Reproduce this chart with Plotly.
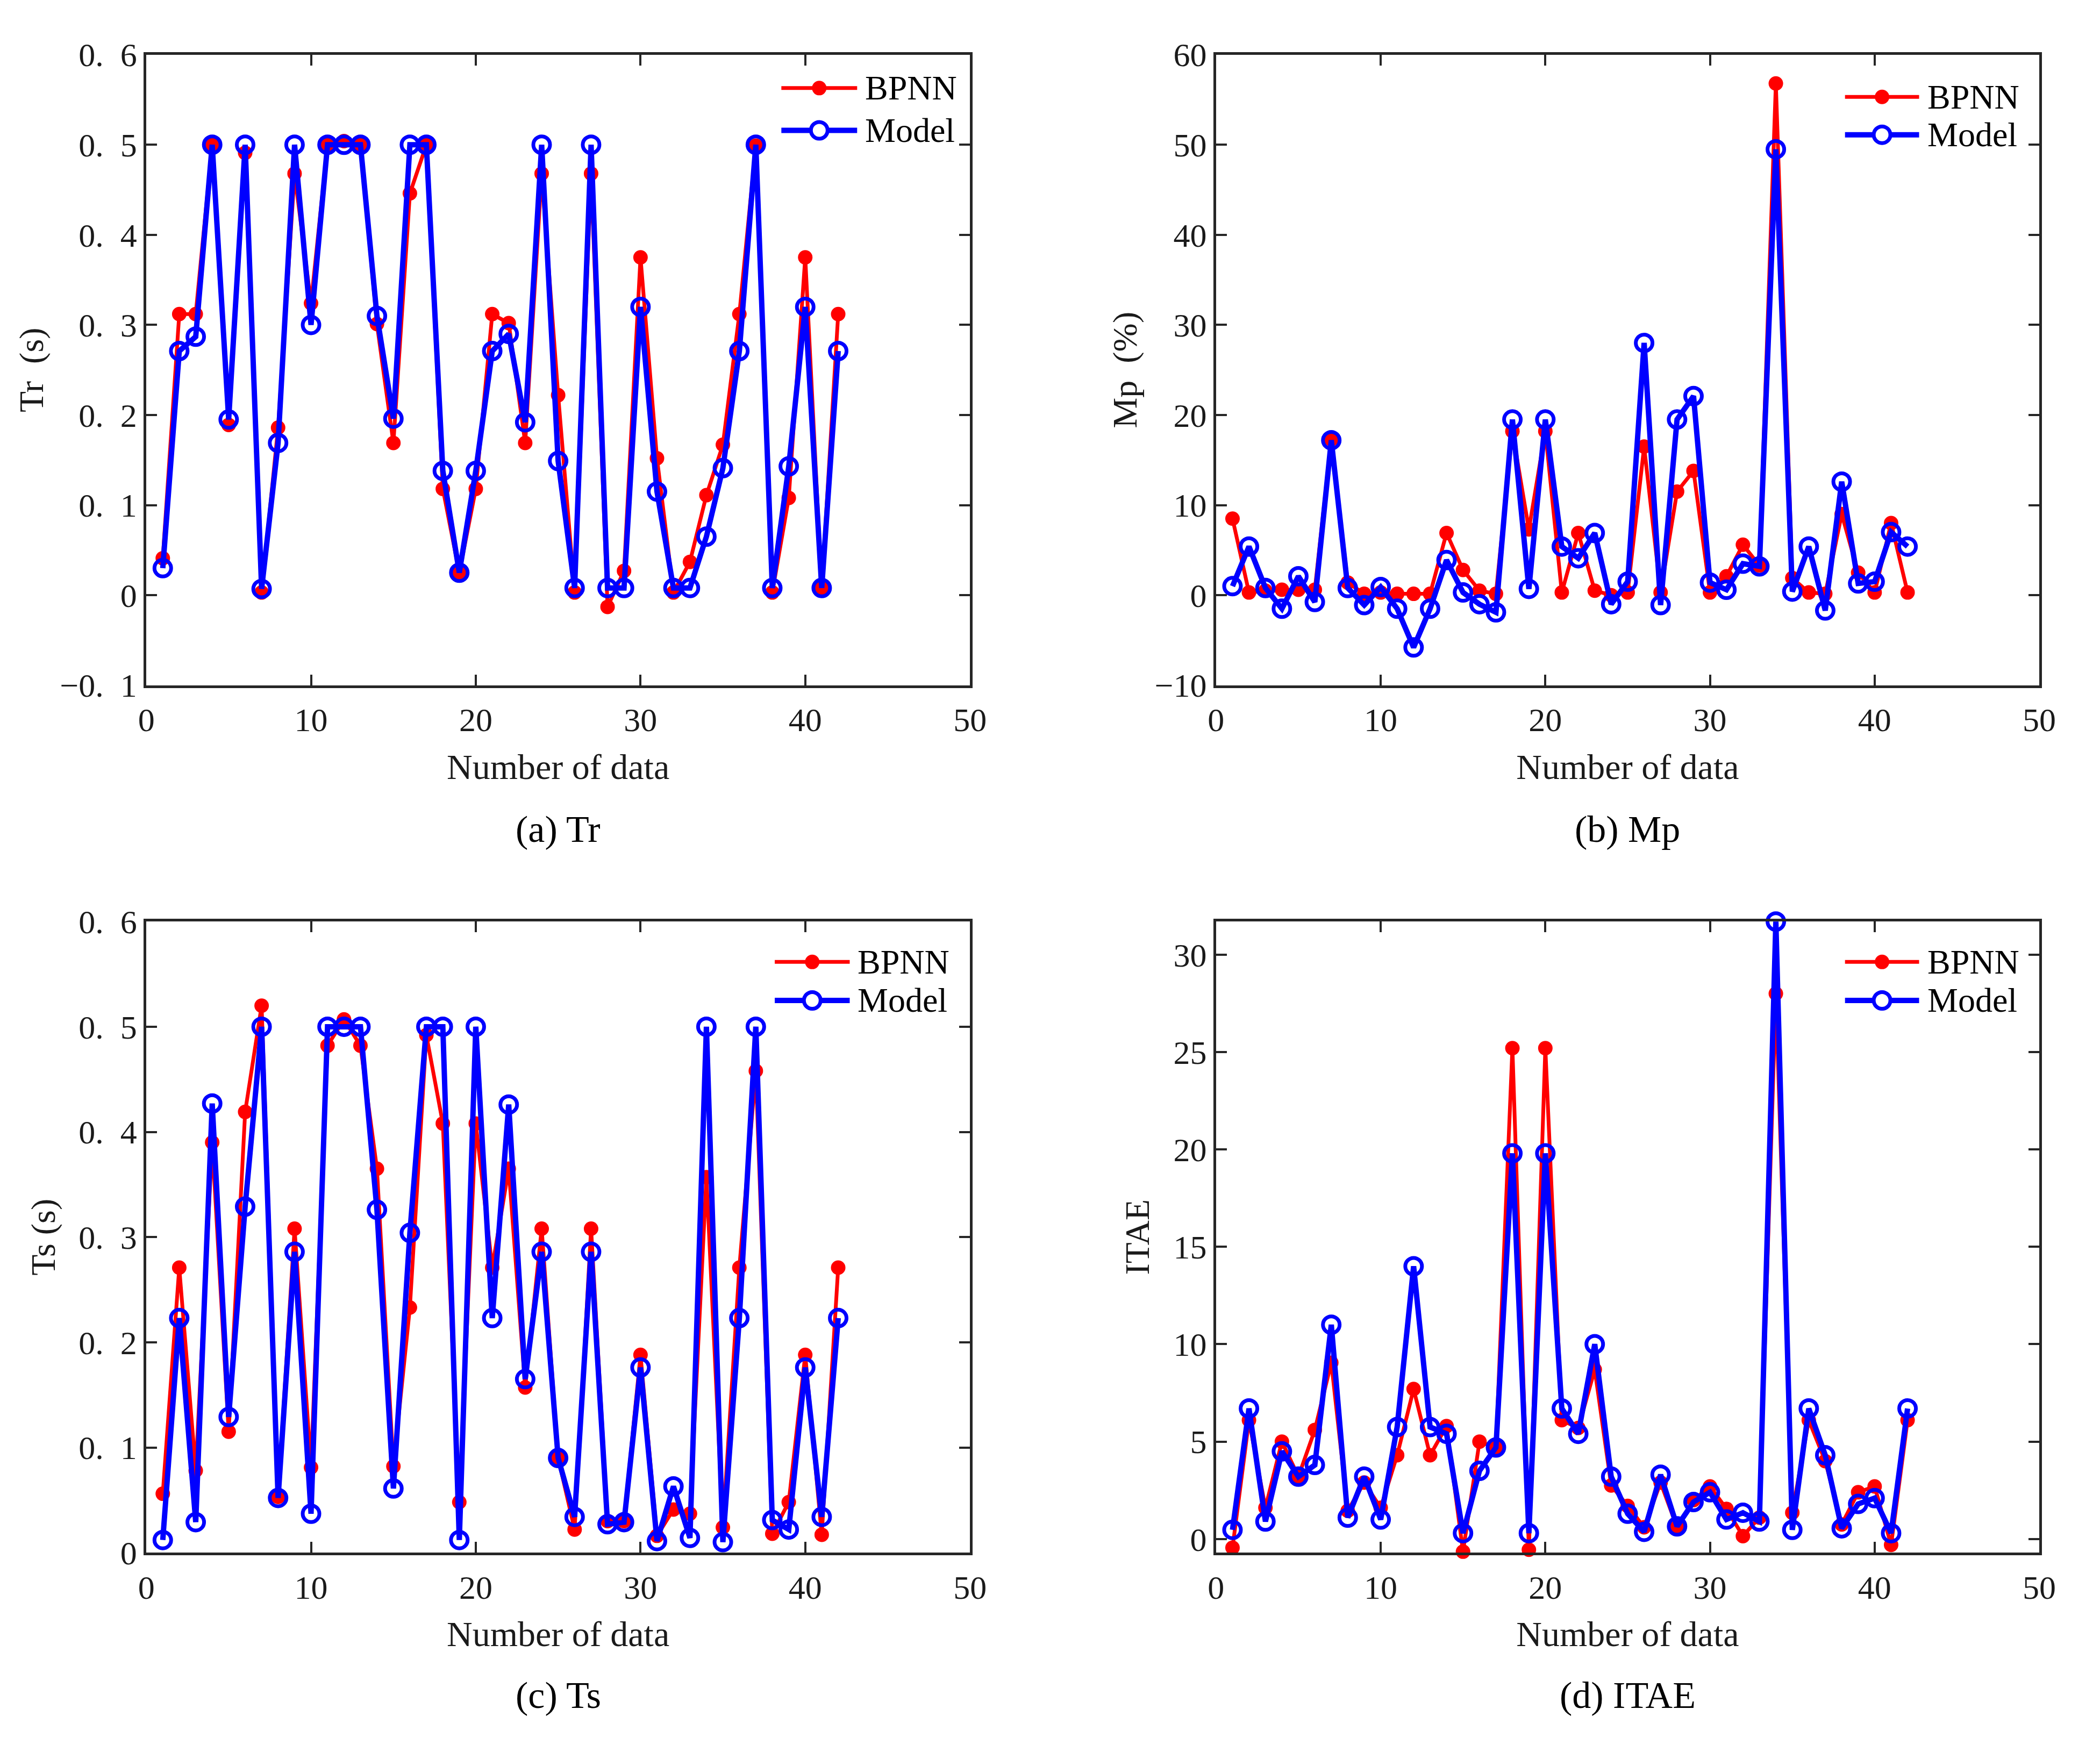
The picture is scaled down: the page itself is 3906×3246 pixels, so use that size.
import plotly.graph_objects as go
from plotly.subplots import make_subplots

# データ番号 (1..42)
idx = list(range(1, 43))

# (a) Tr
tr_bpnn = [0.041, 0.312, 0.312, 0.500, 0.189, 0.491, 0.003, 0.186, 0.468, 0.324,
           0.500, 0.504, 0.500, 0.301, 0.169, 0.446, 0.500, 0.118, 0.025, 0.118,
           0.312, 0.302, 0.169, 0.468, 0.222, 0.003, 0.468, -0.013, 0.027, 0.375,
           0.152, 0.003, 0.037, 0.111, 0.167, 0.312, 0.499, 0.003, 0.108, 0.375,
           0.008, 0.312]
tr_model = [0.030, 0.271, 0.287, 0.500, 0.195, 0.500, 0.007, 0.169, 0.500, 0.300,
            0.500, 0.500, 0.500, 0.310, 0.196, 0.500, 0.500, 0.138, 0.025, 0.138,
            0.271, 0.290, 0.192, 0.500, 0.149, 0.008, 0.500, 0.008, 0.008, 0.320,
            0.115, 0.008, 0.008, 0.065, 0.141, 0.271, 0.500, 0.008, 0.143, 0.320,
            0.008, 0.271]

# (b) Mp
mp_bpnn = [8.5, 0.3, 0.5, 0.6, 0.6, 0.6, 17.3, 1.4, 0.15, 0.3,
           0.15, 0.15, 0.15, 6.9, 2.8, 0.5, 0.15, 18.2, 7.3, 18.2,
           0.3, 6.9, 0.5, 0.0, 0.3, 16.5, 0.3, 11.5, 13.8, 0.3,
           2.1, 5.6, 3.3, 56.8, 1.9, 0.3, 0.15, 9.0, 2.5, 0.3,
           8.0, 0.3]
mp_model = [1.0, 5.4, 0.8, -1.5, 2.1, -0.75, 17.2, 0.8, -1.1, 0.9,
            -1.5, -5.8, -1.5, 3.9, 0.3, -1.0, -1.9, 19.5, 0.7, 19.5,
            5.4, 4.1, 6.9, -1.0, 1.5, 28.0, -1.1, 19.5, 22.1, 1.4,
            0.6, 3.5, 3.2, 49.5, 0.4, 5.4, -1.7, 12.6, 1.3, 1.5,
            7.0, 5.4]

# (c) Ts
ts_bpnn = [0.056, 0.271, 0.078, 0.390, 0.115, 0.419, 0.520, 0.053, 0.308, 0.081,
           0.482, 0.507, 0.482, 0.365, 0.082, 0.233, 0.492, 0.408, 0.048, 0.408,
           0.271, 0.365, 0.157, 0.308, 0.090, 0.022, 0.308, 0.030, 0.030, 0.188,
           0.016, 0.041, 0.037, 0.357, 0.024, 0.271, 0.458, 0.018, 0.048, 0.188,
           0.017, 0.271]
ts_model = [0.012, 0.223, 0.029, 0.427, 0.129, 0.329, 0.500, 0.052, 0.286, 0.037,
            0.500, 0.500, 0.500, 0.326, 0.061, 0.304, 0.500, 0.500, 0.012, 0.500,
            0.223, 0.426, 0.165, 0.286, 0.090, 0.034, 0.286, 0.027, 0.029, 0.176,
            0.011, 0.063, 0.014, 0.500, 0.010, 0.223, 0.500, 0.031, 0.022, 0.176,
            0.034, 0.223]

# (d) ITAE
itae_bpnn = [-0.45, 6.1, 1.6, 5.0, 3.2, 5.6, 9.05, 1.45, 2.9, 1.6,
             4.3, 7.7, 4.3, 5.8, -0.65, 5.0, 4.7, 25.2, -0.55, 25.2,
             6.1, 5.7, 8.7, 2.75, 1.7, 0.6, 2.9, 0.6, 2.0, 2.7,
             1.55, 0.15, 1.1, 28.0, 1.35, 6.1, 4.0, 0.75, 2.4, 2.7,
             -0.3, 6.1]
itae_model = [0.47, 6.7, 0.9, 4.5, 3.2, 3.8, 11.0, 1.1, 3.2, 1.0,
              5.75, 14.0, 5.75, 5.4, 0.3, 3.5, 4.7, 19.8, 0.3, 19.8,
              6.7, 5.4, 10.0, 3.2, 1.3, 0.37, 3.3, 0.65, 1.9, 2.4,
              1.0, 1.35, 0.9, 31.7, 0.47, 6.7, 4.3, 0.55, 1.8, 2.1,
              0.3, 6.7]

series_names = ["BPNN", "Model"]
captions = ["(a) Tr", "(b) Mp", "(c) Ts", "(d) ITAE"]
ytitles = ["Tr\u00a0\u00a0(s)", "Mp\u00a0\u00a0(%)", "Ts\u00a0(s)", "ITAE"]
x_ticks = [0, 10, 20, 30, 40, 50]

# y軸の目盛り (MATLAB風の "0. 6" 表記)
SP = "\u00a0\u00a0"
tr_ticks = [-0.1, 0, 0.1, 0.2, 0.3, 0.4, 0.5, 0.6]
tr_ticktext = ["\u22120." + SP + "1", "0", "0." + SP + "1", "0." + SP + "2", "0." + SP + "3",
               "0." + SP + "4", "0." + SP + "5", "0." + SP + "6"]
mp_ticks = [-10, 0, 10, 20, 30, 40, 50, 60]
mp_ticktext = ["\u221210", "0", "10", "20", "30", "40", "50", "60"]
ts_ticks = [0, 0.1, 0.2, 0.3, 0.4, 0.5, 0.6]
ts_ticktext = ["0", "0." + SP + "1", "0." + SP + "2", "0." + SP + "3",
               "0." + SP + "4", "0." + SP + "5", "0." + SP + "6"]
itae_ticks = [0, 5, 10, 15, 20, 25, 30]

W, H = 3906, 3246
FONT = "Liberation Serif"
RED = "#ff0000"
BLUE = "#0000ff"
AX = "#262626"

fig = make_subplots(rows=2, cols=2)

panels = [
    (1, 1, tr_bpnn, tr_model),
    (1, 2, mp_bpnn, mp_model),
    (2, 1, ts_bpnn, ts_model),
    (2, 2, itae_bpnn, itae_model),
]
for r, c, yb, ym in panels:
    fig.add_trace(go.Scatter(x=idx, y=yb, mode="lines+markers", name=series_names[0],
                             line=dict(color=RED, width=7),
                             marker=dict(symbol="circle", size=27, color=RED),
                             cliponaxis=False, showlegend=False), row=r, col=c)
    fig.add_trace(go.Scatter(x=idx, y=ym, mode="lines+markers", name=series_names[1],
                             line=dict(color=BLUE, width=10),
                             marker=dict(symbol="circle-open", size=31, color=BLUE,
                                         line=dict(width=7, color=BLUE)),
                             cliponaxis=False, showlegend=False), row=r, col=c)

# 軸の位置 (paper座標)
xdom = [[0.0643, 0.4613], [0.5799, 0.9767]]
ydom = [[0.6118, 0.9809], [0.1041, 0.4735]]

axis_style = dict(showline=True, linecolor=AX, linewidth=5, mirror="allticks",
                  ticks="inside", ticklen=20, tickwidth=4, tickcolor=AX,
                  showgrid=False, zeroline=False,
                  tickfont=dict(family=FONT, size=62, color="#1a1a1a"))

yconf = [
    dict(range=[-0.1, 0.6], tickvals=tr_ticks, ticktext=tr_ticktext),
    dict(range=[-10, 60], tickvals=mp_ticks, ticktext=mp_ticktext),
    dict(range=[0, 0.6], tickvals=ts_ticks, ticktext=ts_ticktext),
    dict(range=[-0.7, 31.7], tickvals=itae_ticks),
]
ystandoff = [11, 14, 24, 26]

for i in range(4):
    r, c = i // 2, i % 2
    fig.update_xaxes(domain=xdom[c], range=[0, 50], tickvals=x_ticks,
                     ticklabelstandoff=6,
                     title=dict(text="Number of data", standoff=32,
                                font=dict(family=FONT, size=66, color="#1a1a1a")),
                     **axis_style, row=r + 1, col=c + 1)
    fig.update_yaxes(domain=ydom[r], tickmode="array",
                     title=dict(text=ytitles[i], standoff=ystandoff[i],
                                font=dict(family=FONT, size=64, color="#1a1a1a")),
                     **yconf[i], **axis_style, row=r + 1, col=c + 1)

# 凡例 (各グラフの右上)
leg_rows = [(0.947, 0.880), (0.933, 0.873), (0.936, 0.875), (0.936, 0.875)]
leg_x = [(0.771, 0.863, 0.871), (0.764, 0.854, 0.863),
         (0.763, 0.854, 0.862), (0.764, 0.854, 0.863)]
shapes = []
annotations = []
for i in range(4):
    xs = "x domain" if i == 0 else f"x{i + 1} domain"
    ys = "y domain" if i == 0 else f"y{i + 1} domain"
    x0, x1, xt = leg_x[i]
    xm = (x0 + x1) / 2
    for k, (col, name) in enumerate(zip([RED, BLUE], series_names)):
        yy = leg_rows[i][k]
        shapes.append(dict(type="line", xref=xs, yref=ys, x0=x0, x1=x1, y0=yy, y1=yy,
                           line=dict(color=col, width=7 if k == 0 else 10)))
        if k == 0:
            shapes.append(dict(type="circle", xref=xs, yref=ys, xsizemode="pixel",
                               ysizemode="pixel", xanchor=xm, yanchor=yy,
                               x0=-13.5, x1=13.5, y0=-13.5, y1=13.5,
                               fillcolor=RED, line=dict(color=RED, width=0)))
        else:
            shapes.append(dict(type="circle", xref=xs, yref=ys, xsizemode="pixel",
                               ysizemode="pixel", xanchor=xm, yanchor=yy,
                               x0=-15.5, x1=15.5, y0=-15.5, y1=15.5,
                               fillcolor="white", line=dict(color=BLUE, width=7)))
        annotations.append(dict(text=name, xref=xs, yref=ys, x=xt, y=yy,
                                xanchor="left", yanchor="middle", showarrow=False,
                                font=dict(family=FONT, size=64, color="black")))

# 図のキャプション
cap_y = [0.5275, 0.0205]
for i in range(4):
    r, c = i // 2, i % 2
    annotations.append(dict(text=captions[i], xref="paper", yref="paper",
                            x=sum(xdom[c]) / 2, y=cap_y[r], xanchor="center",
                            yanchor="middle", showarrow=False,
                            font=dict(family=FONT, size=70, color="black")))

fig.update_layout(width=W, height=H, margin=dict(l=0, r=0, t=0, b=0),
                  paper_bgcolor="white", plot_bgcolor="white",
                  shapes=shapes, annotations=annotations, showlegend=False)

fig.write_html("out.html")
